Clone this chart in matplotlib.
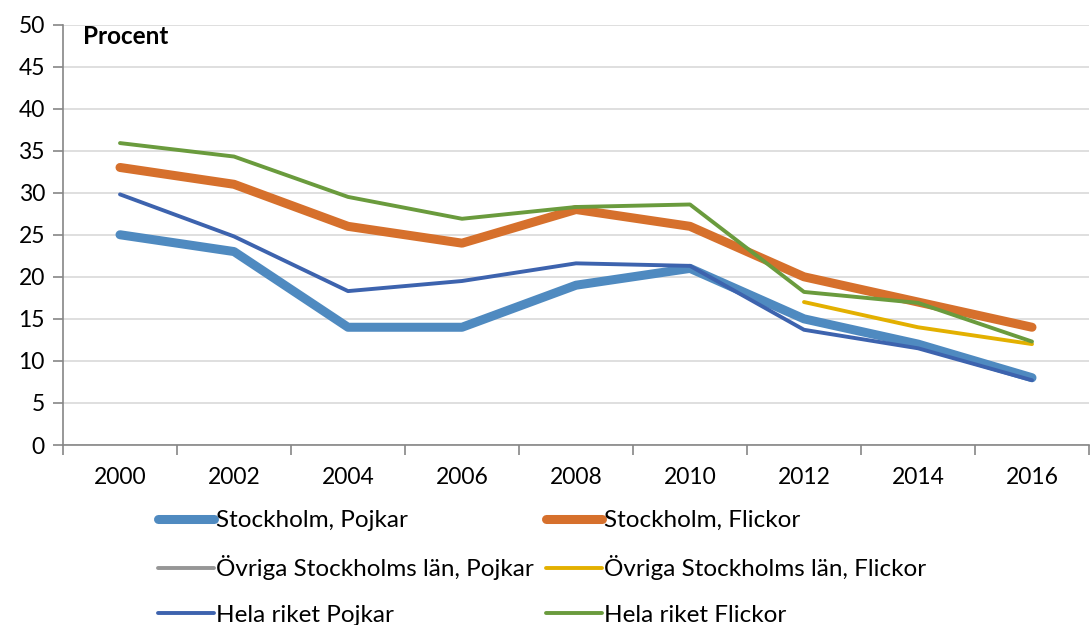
import matplotlib
matplotlib.use("Agg")
import matplotlib.pyplot as plt
import numpy as np

years = ["2000", "2002", "2004", "2006", "2008", "2010", "2012", "2014", "2016"]
sthlm_pojkar = [25, 23, 14, 14, 19, 21, 15, 12, 8]
sthlm_flickor = [33, 31, 26, 24, 28, 26, 20, 17, 14]
ovriga_pojkar = [np.nan] * 9
ovriga_flickor = [np.nan, np.nan, np.nan, np.nan, np.nan, np.nan, 17, 14, 12]
riket_pojkar = [29.8, 24.8, 18.3, 19.5, 21.6, 21.3, 13.7, 11.5, 7.7]
riket_flickor = [35.9, 34.3, 29.5, 26.9, 28.3, 28.6, 18.2, 16.9, 12.3]

plt.rcParams['font.family'] = ['Lato', 'DejaVu Sans']

fig = plt.figure(figsize=(10.91, 6.25), dpi=100)
ax = fig.add_axes([63/1091, 180/625, 1026/1091, 420.5/625])

x = np.arange(len(years))
series = [
    (sthlm_pojkar, "Stockholm, Pojkar", "#4f8ac0", 6.5),
    (sthlm_flickor, "Stockholm, Flickor", "#d6702c", 6.5),
    (ovriga_pojkar, "Övriga Stockholms län, Pojkar", "#969696", 2.8),
    (ovriga_flickor, "Övriga Stockholms län, Flickor", "#e3b000", 2.8),
    (riket_pojkar, "Hela riket Pojkar", "#3d63ae", 2.8),
    (riket_flickor, "Hela riket Flickor", "#6a9b3d", 2.8),
]
handles = []
for vals, lab, col, lw in series:
    h, = ax.plot(x, vals, color=col, lw=lw, label=lab,
                 solid_capstyle='round', solid_joinstyle='round')
    handles.append(h)

ax.set_xlim(-0.5, len(years) - 0.5)
ax.set_ylim(0, 50)
ax.set_yticks(np.arange(0, 51, 5))
ax.set_xticks(x)
ax.set_xticklabels(years)
ax.set_xticks(np.arange(-0.5, len(years), 1), minor=True)
ax.tick_params(axis='x', which='major', length=0, pad=16, labelsize=16.5)
ax.tick_params(axis='x', which='minor', length=7, color='#868686', width=1.2)
ax.tick_params(axis='y', length=7, color='#868686', width=1.2, labelsize=16.5, pad=6)
ax.grid(axis='y', color='#d9d9d9', lw=1.2)
ax.set_axisbelow(True)
for s in ['top', 'right']:
    ax.spines[s].set_visible(False)
for s in ['left', 'bottom']:
    ax.spines[s].set_color('#868686')
    ax.spines[s].set_linewidth(1.2)

ax.text(-0.5 + (83 - 63) / 114, 48.6, "Procent", fontsize=17.5,
        fontweight='bold', va='center')

leg_kw = dict(loc='upper left', frameon=False, fontsize=17.5, handlelength=2.3,
              handletextpad=0.1, labelspacing=1.0, borderaxespad=0, borderpad=0)
col1 = [0, 2, 4]
col2 = [1, 3, 5]
fig.legend([handles[i] for i in col1], [series[i][1] for i in col1],
           bbox_to_anchor=(158/1091, 1 - 510/625), **leg_kw)
fig.legend([handles[i] for i in col2], [series[i][1] for i in col2],
           bbox_to_anchor=(546/1091, 1 - 510/625), **leg_kw)

fig.savefig("out.png", dpi=100)
